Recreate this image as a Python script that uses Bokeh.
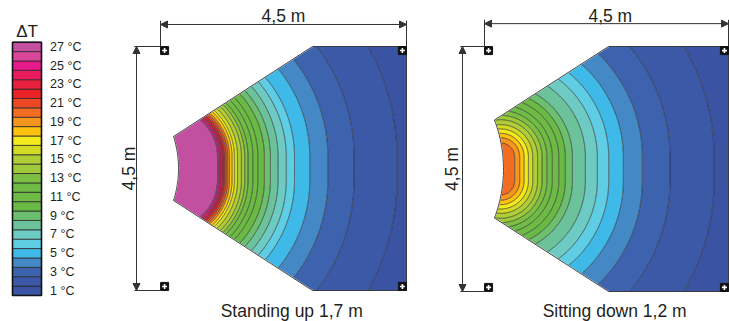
import numpy as np
from bokeh.plotting import figure
from bokeh.layouts import row
from bokeh.models import Range1d, Arrow, NormalHead
from bokeh.embed import file_html
from bokeh.resources import INLINE
from bokeh.core.properties import value

# ---------------- data ----------------
# colour scale: one colour per 1 °C band, from 1 °C (bottom) to 27 °C (top)
scale_levels = list(range(1, 28))
scale_colors = ["#3A53A2", "#3C59A7", "#3E63AE", "#4488C6", "#3FB9E8", "#5FCDE4",
                "#6ECBC4", "#6CC29A", "#6BBF6E", "#6BB945", "#6DBA45", "#6EBB45",
                "#7DBF42", "#9DC93B", "#AECD36", "#D2DA23", "#F4EA1B", "#FDC10E",
                "#F7961D", "#F26C22", "#EE4726", "#EC2326", "#E9213F", "#EA1A5F",
                "#E8198B", "#D9479B", "#C24F9F"]
scale_tick_values = list(range(27, 0, -2))
scale_tick_labels = [f"{v} °C" for v in scale_tick_values]

# isotherms: ΔT value and its position along the jet axis (m from the left reference line)
standing_iso_dT = list(range(2, 28))
standing_iso_x = [4.33, 3.54, 3.06, 2.73, 2.45, 2.30, 2.15, 2.01, 1.90, 1.78, 1.69, 1.60, 1.54,
                  1.48, 1.41, 1.35, 1.31, 1.26, 1.23, 1.20, 1.17, 1.14, 1.12, 1.09, 1.06, 1.04]
sitting_iso_dT = list(range(2, 21))
sitting_iso_x = [4.24, 3.42, 2.91, 2.56, 2.29, 2.08, 1.86, 1.62, 1.49, 1.37, 1.25, 1.15, 1.06,
                 0.98, 0.89, 0.81, 0.73, 0.65, 0.55]

panel_titles = ["Standing up 1,7 m", "Sitting down 1,2 m"]
dimension_label = "4,5 m"
room_size = 4.5

# ---------------- geometry / layout ----------------
FONT = value("Liberation Sans")
TXT = "#231f20"
DIM = "#333333"
PAGE_W, PAGE_H = 729, 321
REF_X0, REF_X1 = 0.0, 729.0
REF_Y0, REF_Y1 = 0.0, 321.0
SX = PAGE_W / (REF_X1 - REF_X0)
fig_widths = [112, 328, 289]
ref_starts = [REF_X0, REF_X0 + fig_widths[0] / SX, REF_X0 + (fig_widths[0] + fig_widths[1]) / SX]

panels = [
    dict(iso_dT=standing_iso_dT, iso_x=standing_iso_x, title=panel_titles[0],
         origin=160.0, ppm_x=246 / 4.5, yc=168.0, ppm_y=244 / 4.5,
         x_src=0.183, half_len=0.22, top_x=2.78, lc_x=0.238, lc_y=0.59, mid_x=0.33,
         dim_x=-0.439, dim_y=2.656, vlab_x=-0.58, tlab_x=2.25, title_x=2.40),
    dict(iso_dT=sitting_iso_dT, iso_x=sitting_iso_x, title=panel_titles[1],
         origin=484.0, ppm_x=244 / 4.5, yc=168.5, ppm_y=245 / 4.5,
         x_src=0.295, half_len=0.22, top_x=2.287, lc_x=0.184, lc_y=0.90, mid_x=0.35,
         dim_x=-0.406, dim_y=2.67, vlab_x=-0.596, tlab_x=2.32, title_x=2.40),
]


def base_fig(w, xr, yr):
    p = figure(width=w, height=PAGE_H, x_range=Range1d(*xr), y_range=Range1d(*yr),
               output_backend="svg", toolbar_location=None, x_axis_type=None,
               y_axis_type=None, min_border=0, outline_line_color=None)
    p.background_fill_color = "white"
    p.border_fill_color = "white"
    return p


# ---------------- legend ----------------
sw_top, sw_h = 41.7, 9.38
def lv(ref_y):
    return 27.5 - (ref_y - sw_top) / sw_h

leg = base_fig(fig_widths[0], (ref_starts[0], ref_starts[0] + fig_widths[0] / SX),
               (lv(REF_Y1), lv(REF_Y0)))
leg.quad(left=12, right=41, bottom=[v - 0.5 for v in scale_levels],
         top=[v + 0.5 for v in scale_levels], fill_color=scale_colors,
         line_color="#2b2b2b", line_width=0.8)
leg.quad(left=12, right=41, bottom=min(scale_levels) - 0.5, top=max(scale_levels) + 0.5,
         fill_color=None, line_color="#111111", line_width=1.6)
leg.text(x=[49.5] * len(scale_tick_values), y=scale_tick_values, text=scale_tick_labels,
         text_font=FONT, text_font_size="12.5px", text_align="left",
         text_baseline="middle", text_color=TXT)
leg.text(x=[26.5], y=[lv(30.5)], text=["ΔT"], text_font=FONT, text_font_size="17px",
         text_align="center", text_baseline="alphabetic", text_color=TXT)


# ---------------- panels ----------------
def isotherm_field(X, Y, iso_dT, iso_x, x_src, half_len):
    d = np.hypot(X - x_src, np.maximum(np.abs(Y) - half_len, 0.0))
    s = x_src + d
    xp = np.array(iso_x[::-1], float)
    fp = np.array(iso_dT[::-1], float)
    return np.interp(s, xp, fp, left=max(iso_dT) + 0.5, right=min(iso_dT) - 0.5)


def left_arc(xc1, yc1, xmid, n=40):
    xc = (xc1 ** 2 + yc1 ** 2 - xmid ** 2) / (2 * (xc1 - xmid))
    R = xmid - xc
    t1 = np.arcsin(yc1 / R)
    t = np.linspace(t1, -t1, n)
    return xc + R * np.cos(t), R * np.sin(t)


figs = [leg]
half = room_size / 2
for i, P in enumerate(panels):
    rs = ref_starts[i + 1]
    re_ = rs + fig_widths[i + 1] / SX
    xr = ((rs - P["origin"]) / P["ppm_x"], (re_ - P["origin"]) / P["ppm_x"])
    yr = ((P["yc"] - REF_Y1) / P["ppm_y"], (P["yc"] - REF_Y0) / P["ppm_y"])
    p = base_fig(fig_widths[i + 1], xr, yr)

    gx = np.linspace(0.12, room_size, 440)
    gy = np.linspace(-half, half, 451)
    X, Y = np.meshgrid(gx, gy)
    Z = isotherm_field(X, Y, P["iso_dT"], P["iso_x"], P["x_src"], P["half_len"])
    p.contour(X, Y, Z, levels=list(range(1, 29)), fill_color=scale_colors,
              line_color="#262626", line_width=0.7)

    ax, ay = left_arc(P["lc_x"], P["lc_y"], P["mid_x"])
    n2 = len(ax) // 2
    # white masks outside the cone
    top_x = [-0.3, P["top_x"], P["top_x"]] + list(ax[:n2 + 1]) + [-0.3]
    top_y = [half + 0.15, half + 0.15, half] + list(ay[:n2 + 1]) + [ay[n2]]
    p.patch(top_x, top_y, fill_color="white", line_color="white", line_width=1.2)
    p.patch(top_x, [-v for v in top_y], fill_color="white", line_color="white", line_width=1.2)
    # outline of the cone
    ox = [P["top_x"], room_size, room_size, P["top_x"]] + list(ax[::-1])
    oy = [half, half, -half, -half] + list(ay[::-1])
    p.patch(ox, oy, fill_color=None, line_color="#303030", line_width=0.9)

    # dimension lines
    head = lambda: NormalHead(size=7, fill_color=DIM, line_color=DIM, line_width=1)
    p.add_layout(Arrow(start=head(), end=head(), x_start=0, y_start=P["dim_y"],
                       x_end=room_size, y_end=P["dim_y"], line_color=DIM, line_width=1))
    p.add_layout(Arrow(start=head(), end=head(), x_start=P["dim_x"], y_start=half,
                       x_end=P["dim_x"], y_end=-half, line_color=DIM, line_width=1))
    p.segment(x0=[0, room_size, P["dim_x"] - 0.04, P["dim_x"] - 0.04],
              y0=[P["dim_y"] + 0.07, P["dim_y"] + 0.07, half, -half],
              x1=[0, room_size, 0, 0],
              y1=[half, half, half, -half], line_color=DIM, line_width=1)

    # corner markers
    ins = 0.075
    cx = [ins, room_size - ins, ins, room_size - ins]
    cy = [half - ins, half - ins, -half + ins, -half + ins]
    p.scatter(cx, cy, marker="square", size=8, fill_color="#111111", line_color="#111111")
    p.scatter(cx, cy, marker="cross", size=5, line_color="white", line_width=1.6)

    # labels
    p.text(x=[P["tlab_x"]], y=[(P["yc"] - 15.5) / P["ppm_y"]], text=[dimension_label],
           text_font=FONT, text_font_size="17.5px", text_align="center",
           text_baseline="alphabetic", text_color=TXT)
    p.text(x=[P["vlab_x"]], y=[0], text=[dimension_label], angle=np.pi / 2,
           text_font=FONT, text_font_size="17.5px", text_align="center",
           text_baseline="alphabetic", text_color=TXT)
    p.text(x=[P["title_x"]], y=[(P["yc"] - 310.5) / P["ppm_y"]], text=[P["title"]],
           text_font=FONT, text_font_size="17.5px", text_align="center",
           text_baseline="alphabetic", text_color=TXT)
    figs.append(p)

layout = row(*figs, spacing=0)
open("out.html", "w").write(file_html(layout, INLINE))
